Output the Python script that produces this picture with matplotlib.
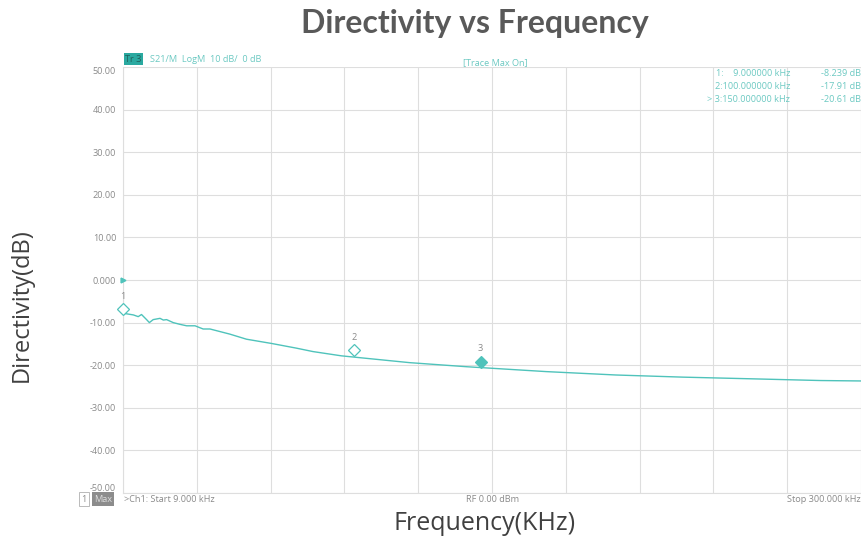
import matplotlib
matplotlib.use("Agg")
import matplotlib.pyplot as plt
from matplotlib.transforms import offset_copy

# ---- data ----
freq_khz = [9.0, 13.1, 15.0, 16.3, 18.3, 19.4, 20.9, 23.6, 24.9, 26.2, 28.8, 31.4,
            34.1, 37.4, 40.6, 43.3, 51.1, 57.7, 67.6, 77.4, 83.9, 95.1, 110.2,
            122.0, 144.3, 175.8, 203.4, 229.6, 257.2, 284.1, 300.0]
directivity_db = [-7.8, -8.2, -8.6, -8.1, -9.3, -10.0, -9.3, -9.0, -9.4, -9.3, -10.0, -10.4,
                  -10.75, -10.75, -11.5, -11.5, -12.7, -13.9, -14.9, -16.0, -16.8, -17.8, -18.7,
                  -19.4, -20.35, -21.5, -22.3, -22.8, -23.2, -23.6, -23.7]
marker_ids = ["1", "2", "3"]
marker_freq_khz = [9.0, 100.0, 150.0]
marker_db = [-8.239, -17.91, -20.61]
marker_freq_text = ["9.000000 kHz", "100.000000 kHz", "150.000000 kHz"]
marker_db_text = ["-8.239 dB", "-17.91 dB", "-20.61 dB"]
ytick_vals = [50, 40, 30, 20, 10, 0, -10, -20, -30, -40, -50]
ytick_labels = ["50.00", "40.00", "30.00", "20.00", "10.00", "0.000",
                "-10.00", "-20.00", "-30.00", "-40.00", "-50.00"]
x_start, x_stop = 9.0, 300.0

TEAL = "#4fc3bb"
TEXT_TEAL = "#6cc9c2"
GRID = "#dedede"
GRAY = "#8a8a8a"
UI_FONT = "Open Sans"
fs = 6.6

fig = plt.figure(figsize=(8.62, 5.44), dpi=100)
ax = fig.add_axes([123 / 862, 1 - 493 / 544, 738 / 862, (493 - 67) / 544])

ax.plot(freq_khz, directivity_db, color=TEAL, lw=1.0, zorder=3)

ax.set_xlim(x_start, x_stop)
ax.set_ylim(-50, 50)
step = (x_stop - x_start) / 10
ax.set_xticks([x_start + i * step for i in range(11)])
ax.set_yticks(ytick_vals)
ax.set_yticklabels(ytick_labels)
ax.tick_params(axis="x", length=0, labelbottom=False)
ax.tick_params(axis="y", length=0, labelsize=fs, labelcolor=GRAY, pad=5)
ylabs = ax.get_yticklabels()
for lab in ylabs:
    lab.set_family(UI_FONT)
ylabs[0].set_va("top")
ylabs[-1].set_va("bottom")
ax.grid(True, color=GRID, lw=0.8)
for s in ax.spines.values():
    s.set_visible(False)
ax.spines["left"].set_visible(True)
ax.spines["left"].set_color(GRID)
ax.spines["bottom"].set_visible(True)
ax.spines["bottom"].set_color(GRID)

# reference level triangle at 0 dB
ax.plot([x_start], [0], marker=">", color=TEAL, ms=3.5, clip_on=False, zorder=4)

# markers
for i, (mid, mf, md) in enumerate(zip(marker_ids, marker_freq_khz, marker_db)):
    tr = offset_copy(ax.transData, fig=fig, x=0, y=4.2, units="points")
    filled = (i == len(marker_ids) - 1)
    ax.plot([mf], [md], marker="D", ms=6, mew=0.9, transform=tr, clip_on=False,
            mfc=TEAL if filled else "white", mec=TEAL, zorder=5)
    tr2 = offset_copy(ax.transData, fig=fig, x=0, y=10.5, units="points")
    ax.text(mf, md, mid, transform=tr2, ha="center", va="bottom", fontsize=fs,
            color=GRAY, family=UI_FONT)

# top annotations
fig.text(125 / 862, 1 - 59 / 544, "Tr 3", fontsize=fs, family=UI_FONT, color="#1f5f5a",
         va="center", ha="left",
         bbox=dict(boxstyle="square,pad=0.15", fc="#2aa9a0", ec="none"))
fig.text(150 / 862, 1 - 60 / 544, "S21/M  LogM  10 dB/  0 dB", fontsize=fs, family=UI_FONT,
         color=TEXT_TEAL, va="center", ha="left")
fig.text(495 / 862, 1 - 63 / 544, "[Trace Max On]", fontsize=fs, family=UI_FONT,
         color=TEXT_TEAL, va="center", ha="center")
for k in range(len(marker_ids)):
    y = 1 - (74 + 12.5 * k) / 544
    prefix = "> " if k == len(marker_ids) - 1 else ""
    sep = ":    " if k == 0 else ":"
    fig.text(790 / 862, y, prefix + marker_ids[k] + sep + marker_freq_text[k], fontsize=fs,
             family=UI_FONT, color=TEXT_TEAL, va="center", ha="right")
    fig.text(861 / 862, y, marker_db_text[k], fontsize=fs, family=UI_FONT,
             color=TEXT_TEAL, va="center", ha="right")

# bottom annotations
fig.text(81 / 862, 1 - 499 / 544, "1", fontsize=fs, family=UI_FONT, color=GRAY,
         va="center", ha="left",
         bbox=dict(boxstyle="square,pad=0.25", fc="white", ec="#b0b0b0", lw=0.6))
fig.text(94 / 862, 1 - 499 / 544, "Max", fontsize=fs, family=UI_FONT, color="#dddddd",
         va="center", ha="left",
         bbox=dict(boxstyle="square,pad=0.25", fc="#8c8c8c", ec="none"))
fig.text(124 / 862, 1 - 500 / 544, ">Ch1: Start 9.000 kHz", fontsize=fs, family=UI_FONT,
         color=GRAY, va="center", ha="left")
fig.text(493 / 862, 1 - 500 / 544, "RF 0.00 dBm", fontsize=fs, family=UI_FONT,
         color=GRAY, va="center", ha="center")
fig.text(861 / 862, 1 - 500 / 544, "Stop 300.000 kHz", fontsize=fs, family=UI_FONT,
         color=GRAY, va="center", ha="right")

# titles / labels
fig.text(475 / 862, 1 - 24 / 544, "Directivity vs Frequency", fontsize=23, fontweight="bold",
         family="Lato", color="#595959", ha="center", va="center")
fig.text(485 / 862, 1 - 523 / 544, "Frequency(KHz)", fontsize=18, family="Open Sans",
         color="#404040", ha="center", va="center")
fig.text(22 / 862, 1 - 305 / 544, "Directivity(dB)", fontsize=17, family="Open Sans",
         color="#404040", ha="center", va="center", rotation=90)

fig.savefig("out.png", dpi=100)
